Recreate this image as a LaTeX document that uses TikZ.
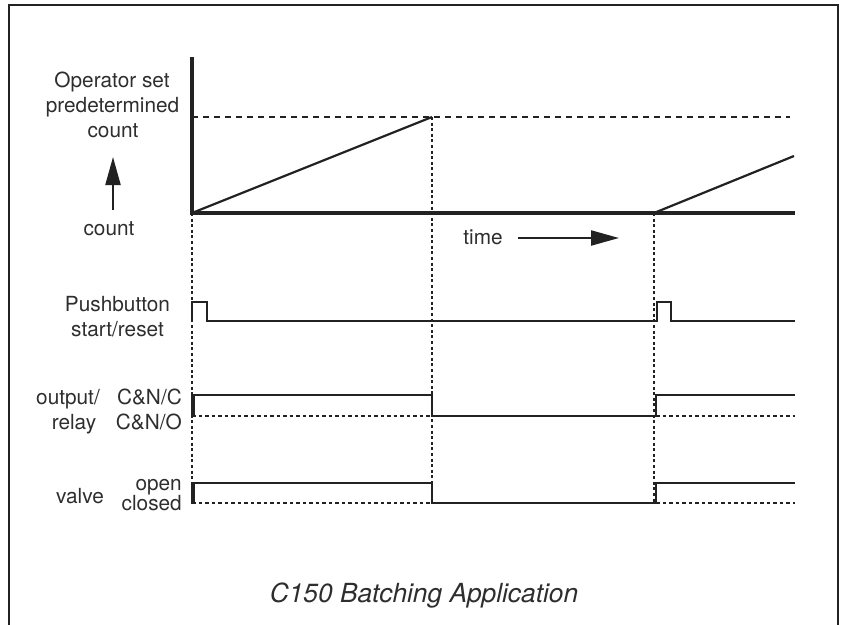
\documentclass[tikz,border=0pt]{standalone}
\usepackage{fontspec}
\setmainfont{TeX Gyre Heros}
\usetikzlibrary{arrows.meta}
\definecolor{ink}{HTML}{222222}
\definecolor{txt}{HTML}{2E2E2E}
\tikzset{
  lbl/.style={inner sep=0pt, text=txt, font=\fontsize{20.8}{25}\selectfont},
  ttl/.style={inner sep=0pt, text=txt, font=\fontsize{26.3}{30}\selectfont\itshape},
  axisline/.style={draw=ink, line width=3.2pt},
  ramp/.style={draw=ink, line width=2.2pt},
  sig/.style={draw=ink, line width=2.2pt, line join=miter},
  edge/.style={draw=ink, line width=3.4pt},
  level/.style={draw=ink, line width=1.2pt, dash pattern=on 6pt off 5pt},
  guide/.style={draw=ink, line width=1.3pt, dash pattern=on 3pt off 2.6pt},
  base/.style={draw=ink, line width=1.3pt, dash pattern=on 3.5pt off 3pt},
  bigarrow/.style={draw=ink, line width=2.2pt, -{Triangle[length=28pt,width=15pt]}},
  frame/.style={draw=ink, line width=2pt}
}
\begin{document}
\begin{tikzpicture}[x=1pt,y=-1pt]
\useasboundingbox (0,0) rectangle (845,624);
% frame
\draw[frame] (9,630) -- (9,5) -- (838,5) -- (838,630);

% count graph
\draw[level] (192,117) -- (790,117);
\draw[guide] (192,213) -- (192,503);
\draw[guide] (432,117) -- (432,503);
\draw[guide] (654,213) -- (654,503);
\draw[axisline] (192,57) -- (192,213) -- (795,213);
\draw[ramp] (192,213) -- (432,117);
\draw[ramp] (654,213) -- (794,156);

% pushbutton
\draw[sig] (192,322) -- (192,302) -- (207,302) -- (207,321) -- (657,321) -- (657,302) -- (671,302) -- (671,321) -- (795,321);

% relay
\draw[base] (192,416) -- (432,416);
\draw[base] (656,416) -- (795,416);
\draw[edge] (193,417) -- (193,395);
\draw[sig] (193,395) -- (432,395) -- (432,416) -- (656,416) -- (656,395) -- (795,395);

% valve
\draw[base] (192,503) -- (432,503);
\draw[base] (656,503) -- (795,503);
\draw[edge] (193,504) -- (193,483);
\draw[sig] (193,483) -- (432,483) -- (432,503) -- (656,503) -- (656,483) -- (795,483);

% labels
\node[lbl, anchor=base] (op1) at (112,87) {Operator set};
\node[lbl, anchor=base] (op2) at (112.5,112) {predetermined};
\node[lbl, anchor=base] (op3) at (113,137) {count};
\node[lbl, anchor=base] (cnt) at (109,235) {count};
\coordinate (upfrom) at (113,210);
\coordinate (upto) at (113,157);
\draw[bigarrow] (upfrom) -- (upto);

\node[lbl, anchor=base] (time) at (483,244) {time};
\coordinate (tfrom) at (518,238);
\coordinate (tto) at (619,238);
\draw[bigarrow] (tfrom) -- (tto);

\node[lbl, anchor=base] (pb1) at (117.5,311) {Pushbutton};
\node[lbl, anchor=base] (pb2) at (117.5,336) {start/reset};

\node[lbl, anchor=base] (out1) at (68,404) {output/};
\node[lbl, anchor=base] (out2) at (74,429) {relay};
\node[lbl, anchor=base east] (nc) at (182,404) {C\&N/C};
\node[lbl, anchor=base east] (no) at (182,429) {C\&N/O};

\node[lbl, anchor=base] (valve) at (80,503) {valve};
\node[lbl, anchor=base east] (open) at (182,490) {open};
\node[lbl, anchor=base east] (closed) at (182,510) {closed};

\node[ttl, anchor=base] (title) at (424,602) {C150 Batching Application};
\end{tikzpicture}
\end{document}
